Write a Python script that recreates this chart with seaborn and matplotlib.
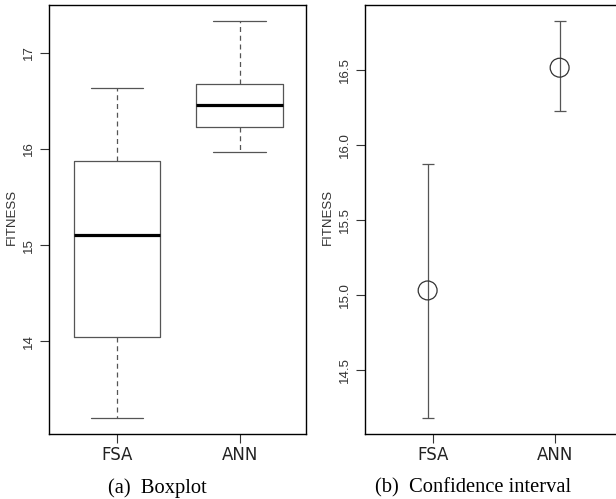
import matplotlib
matplotlib.use("Agg")
import matplotlib.pyplot as plt
import seaborn as sns
import pandas as pd

# ---- data ----
groups = ["FSA", "ANN"]
# boxplot summary (whisker low, Q1, median, Q3, whisker high)
whis_lo = [13.20, 15.965]
q1 = [14.045, 16.225]
median = [15.105, 16.46]
q3 = [15.87, 16.675]
whis_hi = [16.63, 17.33]
# confidence intervals
ci_mean = [15.03, 16.515]
ci_lo = [14.178, 16.225]
ci_hi = [15.875, 16.827]
ci_pos = [0.959, 2.041]

left_ticks = [14, 15, 16, 17]
right_ticks = [14.5, 15.0, 15.5, 16.0, 16.5]

sns.set_style("white")
plt.rcParams["font.family"] = ["Liberation Sans", "DejaVu Sans"]

W, H = 616, 499
fig = plt.figure(figsize=(W / 100, H / 100), dpi=100)

def px_axes(x0, x1, ytop, ybot):
    return fig.add_axes([x0 / W, (H - ybot) / H, (x1 - x0) / W, (ybot - ytop) / H])

axL = px_axes(49.3, 306.3, 5, 434)
axR = px_axes(365.3, 621.0, 5, 434)

gray = "#555555"
tick_font = dict(family="Liberation Sans", size=9.5, color="#333333")
xtick_font = dict(family="DejaVu Sans", size=12, color="#222222")

# ---- left: boxplot ----
stats = []
for i, g in enumerate(groups):
    stats.append(dict(label=g, whislo=whis_lo[i], q1=q1[i], med=median[i],
                      q3=q3[i], whishi=whis_hi[i], fliers=[]))
axL.bxp(stats, positions=[1, 2], widths=0.705, capwidths=0.43,
        showfliers=False, patch_artist=False,
        boxprops=dict(color=gray, linewidth=0.9),
        whiskerprops=dict(color=gray, linewidth=0.9, linestyle=(0, (4, 3))),
        capprops=dict(color=gray, linewidth=0.9),
        medianprops=dict(color="black", linewidth=2.3, solid_capstyle="butt"))
axL.set_xlim(0.448, 2.543)
axL.set_ylim(13.036, 17.496)
axL.set_yticks(left_ticks)
axL.set_yticklabels([str(t) for t in left_ticks], rotation=90, va="center", **tick_font)

# ---- right: confidence interval ----
df = pd.DataFrame({"pos": ci_pos, "mean": ci_mean, "lo": ci_lo, "hi": ci_hi, "group": groups})
axR.errorbar(df["pos"], df["mean"],
             yerr=[df["mean"] - df["lo"], df["hi"] - df["mean"]],
             fmt="none", ecolor=gray, elinewidth=0.9, capsize=4.6, capthick=0.9)
sns.scatterplot(data=df, x="pos", y="mean", ax=axR, s=185, marker="o",
                facecolors="none", edgecolor="#333333", linewidth=0.9, zorder=3, legend=False)
axR.set_xlim(0.448, 2.544)
axR.set_ylim(14.073, 16.933)
axR.set_yticks(right_ticks)
axR.set_yticklabels([f"{t:.1f}" for t in right_ticks], rotation=90, va="center", **tick_font)

for ax in (axL, axR):
    ax.set_xticks([1, 2])
    ax.set_xticklabels(groups, **xtick_font)
    ax.set_xlabel("")
    ax.set_ylabel("FITNESS", **tick_font)
    ax.yaxis.set_label_coords(-0.124, 0.505)
    ax.tick_params(axis="both", direction="out", length=6.5, width=0.8, color="#333333",
                   left=True, bottom=True)
    ax.tick_params(axis="y", pad=4)
    ax.tick_params(axis="x", pad=2.5)
    for s in ax.spines.values():
        s.set_visible(True)
        s.set_color("black")
        s.set_linewidth(1.0)
    ax.grid(False)

cap_font = dict(family="Liberation Serif", size=14.8, color="black", ha="center", va="baseline")
fig.text(157.7 / W, (H - 492.7) / H, "(a)  Boxplot", **cap_font)
fig.text(472.8 / W, (H - 492.7) / H, "(b)  Confidence interval", **cap_font)

fig.savefig("out.png", dpi=100)
